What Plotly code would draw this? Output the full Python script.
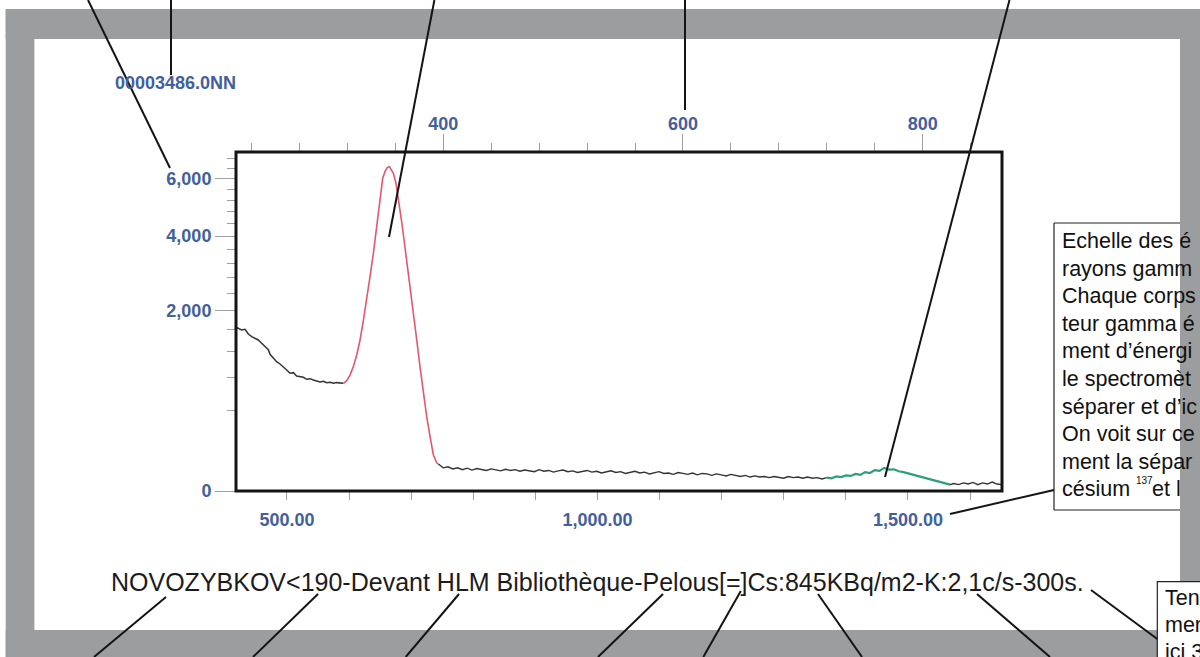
import numpy as np
import plotly.graph_objects as go

# ---------------- data ----------------
# spectrum: counts per channel, split by colour segment
black1_ch = [227.5, 229.1, 231.8, 234.6, 237.4, 240.2, 243.0, 245.7, 248.5, 251.3, 254.1, 255.5,
             258.3, 261.0, 263.8, 266.6, 269.4, 272.2, 275.0, 277.7, 280.5, 283.3, 286.1, 288.9,
             291.6, 294.4, 297.2, 300.0, 302.8, 305.6, 308.4, 311.2, 313.9, 316.7]
black1_counts = [1650, 1629, 1596, 1609, 1518, 1467, 1435, 1404, 1343, 1283, 1230, 1150,
                 1084, 1030, 993, 952, 901, 853, 862, 814, 805, 796, 768, 777,
                 759, 750, 732, 741, 723, 727, 714, 723, 714, 714]

red_ch = [316.7, 319.5, 322.2, 325.0, 327.8, 330.6, 333.4, 336.1, 338.9, 341.7, 344.5, 347.3,
          349.5, 351.4, 353.4, 355.1, 356.7, 358.4, 360.6, 362.8, 365.1, 367.3, 369.5, 372.3,
          375.1, 377.9, 380.6, 383.4, 386.2, 389.0, 391.8, 394.5, 395.9]
red_counts = [714, 750, 828, 952, 1139, 1404, 1800, 2246, 2828, 3478, 4302, 5335,
              6020, 6279, 6450, 6477, 6371, 6214, 5829, 5214, 4522, 3879, 3286, 2571,
              1944, 1404, 952, 587, 340, 182, 80, 49, 45]

black2_ch = [395.9, 400, 404, 408, 412, 416, 420, 424, 428, 432, 436, 440, 444, 448, 452, 456,
             460, 464, 468, 472, 476, 480, 484, 488, 492, 496, 500, 504, 508, 512, 516, 520,
             524, 528, 532, 536, 540, 544, 548, 552, 556, 560, 564, 568, 572, 576, 580, 584,
             588, 592, 596, 600, 604, 608, 612, 616, 620, 624, 628, 632, 636, 640, 644, 648,
             652, 656, 660, 664, 668, 672, 676, 680, 684, 688, 692, 696, 700, 704, 708, 712,
             716, 720]
black2_counts = [45, 33, 36, 30, 33, 28, 32, 27, 31, 29, 26, 30, 27, 25, 29, 26,
                 28, 24, 27, 25, 23, 28, 24, 26, 22, 25, 27, 23, 25, 21, 24, 26,
                 22, 24, 20, 23, 25, 21, 23, 19, 22, 24, 20, 22, 18, 21, 23, 19,
                 20, 17, 21, 19, 17, 20, 16, 19, 18, 15, 18, 16, 14, 17, 15, 13,
                 15, 12, 14, 12, 13, 11, 13, 12, 10, 13, 11, 12, 10, 12, 10, 11,
                 9, 11]

green_ch = [720, 724, 728, 732, 736, 740, 744, 748, 752, 756, 760, 764, 768, 772, 776, 780,
            784, 788, 792, 796, 800, 804, 808, 812, 816, 820, 822.8]
green_counts = [11, 10, 13, 12, 15, 14, 18, 16, 22, 20, 27, 25, 33, 28, 29, 24,
                22, 19, 16, 13, 11, 9, 7, 6, 4, 3, 2.5]

black3_ch = [822.8, 826, 830, 834, 838, 842, 846, 850, 854, 858, 862, 866]
black3_counts = [2.5, 3.5, 2.5, 4, 3, 4.5, 2.5, 4, 3, 5, 3, 2.5]

# axes
channel_range = [227.1, 866.2]
channel_major = [400, 600, 800]
channel_minor = [240, 280, 320, 360, 440, 480, 520, 560, 640, 680, 720, 760, 840]
energy_range = [417.9, 1651.4]
energy_major = [500, 1000, 1500]
energy_major_text = ["500.00", "1,000.00", "1,500.00"]
energy_minor = [600, 700, 800, 900, 1100, 1200, 1300, 1400, 1600]
count_top = 7075
count_major = [0, 2000, 4000, 6000]
count_major_text = ["0", "2,000", "4,000", "6,000"]
count_minor = [400, 800, 1200, 1600, 2400, 2800, 3200, 3600, 4400, 4800, 5200, 5600, 6400, 6800]

# texts
spectrum_id = "00003486.0NN"
caption = "NOVOZYBKOV&lt;190-Devant HLM Bibliothèque-Pelous[=]Cs:845KBq/m2-K:2,1c/s-300s."
box_lines = ["Echelle des é", "rayons gamm", "Chaque corps", "teur gamma é", "ment d’énergi",
             "le spectromèt", "séparer et d’ic", "On voit sur ce", "ment la sépar", "césium"]
box_sup = "137"
box_tail = "et l"
small_box_lines = ["Ten", "mer", "ici 3"]

# ---------------- layout helpers (pixel -> paper) ----------------
W, H = 1200, 657
ML, MR, MT, MB = 236, 198, 152, 166
PW, PH = W - ML - MR, H - MT - MB


def X(px):
    return (px - ML) / PW


def Y(py):
    return (H - MB - py) / PH


BLUE = "#42609c"
GRAY = "#9c9d9f"
TICK = "#a0a0a0"
INK = "#141414"

sq = np.sqrt

fig = go.Figure()
segments = [
    (black1_ch, black1_counts, "#333333", 1.5),
    (red_ch, red_counts, "#e4576c", 1.6),
    (black2_ch, black2_counts, "#333333", 1.4),
    (green_ch, green_counts, "#2b9e7b", 2.2),
    (black3_ch, black3_counts, "#333333", 1.4),
]
for ch, cnt, col, w in segments:
    fig.add_trace(go.Scatter(x=ch, y=sq(np.array(cnt, dtype=float)), mode="lines",
                             line=dict(color=col, width=w), showlegend=False,
                             hoverinfo="skip", xaxis="x", yaxis="y"))
# empty trace so the energy axis gets its own subplot
fig.add_trace(go.Scatter(x=[], y=[], xaxis="x2", yaxis="y", showlegend=False, hoverinfo="skip"))

tickfont = dict(family="Liberation Sans, Arial, sans-serif", size=18, color=BLUE, weight="bold")

shapes = []
# grey frame
for x0, x1, y0, y1 in [(5.7, 1210, 9, 39), (5.7, 34.4, 9, 670), (1180, 1210, 9, 670), (5.7, 1210, 630, 670)]:
    shapes.append(dict(type="rect", xref="paper", yref="paper", x0=X(x0), x1=X(x1), y0=Y(y0), y1=Y(y1),
                       fillcolor=GRAY, line=dict(width=0), layer="below"))
# plot frame
shapes.append(dict(type="rect", xref="paper", yref="paper", x0=0, x1=1, y0=0, y1=1,
                   line=dict(color=INK, width=3), layer="above"))
# explanation box (open on the right, hidden under the grey band)
for (ax, ay, bx, by) in [(1054, 223, 1180, 223), (1054, 223, 1054, 510), (1054, 510, 1180, 510)]:
    shapes.append(dict(type="line", xref="paper", yref="paper", x0=X(ax), y0=Y(ay), x1=X(bx), y1=Y(by),
                       line=dict(color="#222222", width=1.2), layer="above"))
# small box bottom right
shapes.append(dict(type="rect", xref="paper", yref="paper", x0=X(1157.3), x1=X(1215), y0=Y(581.7), y1=Y(670),
                   fillcolor="white", line=dict(color="#222222", width=1.2), layer="above"))
# leader lines
leaders = [
    (88, 0, 170, 168), (171, 0, 171, 75), (434.4, 0, 389, 237), (685, 0, 685, 110), (1009.5, 0, 885, 477),
    (950, 514, 1054, 490),
    (166, 597, 94, 657), (318, 594, 253, 657), (459, 594, 405.7, 657), (663, 594, 598, 657),
    (740.8, 591, 703.3, 657), (818, 594, 862, 657), (977, 594, 1050, 657), (1091, 590, 1157.3, 639),
]
for ax, ay, bx, by in leaders:
    shapes.append(dict(type="line", xref="paper", yref="paper", x0=X(ax), y0=Y(ay), x1=X(bx), y1=Y(by),
                       line=dict(color=INK, width=2), layer="above"))

annotations = []
annotations.append(dict(text=spectrum_id, x=X(175), y=Y(83), xref="paper", yref="paper", showarrow=False,
                        xanchor="center", yanchor="middle", font=tickfont))
annotations.append(dict(text=caption, x=X(109), y=Y(582), xref="paper", yref="paper", showarrow=False,
                        xanchor="left", yanchor="middle",
                        font=dict(family="Liberation Sans, Arial, sans-serif", size=25, color="#1c1c1c")))
boxfont = dict(family="Liberation Sans, Arial, sans-serif", size=21.5, color="#111111")
for i, t in enumerate(box_lines):
    annotations.append(dict(text=t, x=X(1060), y=Y(241 + i * 27.6), xref="paper", yref="paper",
                            showarrow=False, xanchor="left", yanchor="middle", font=boxfont))
annotations.append(dict(text=box_sup, x=X(1134), y=Y(480), xref="paper", yref="paper", showarrow=False,
                        xanchor="left", yanchor="middle",
                        font=dict(family="Liberation Sans, Arial, sans-serif", size=10, color="#111111")))
annotations.append(dict(text=box_tail, x=X(1150), y=Y(241 + 9 * 27.6), xref="paper", yref="paper",
                        showarrow=False, xanchor="left", yanchor="middle", font=boxfont))
for i, t in enumerate(small_box_lines):
    annotations.append(dict(text=t, x=X(1163), y=Y(598 + i * 27), xref="paper", yref="paper",
                            showarrow=False, xanchor="left", yanchor="middle", font=boxfont))

fig.update_layout(
    width=W, height=H,
    margin=dict(l=ML, r=MR, t=MT, b=MB, pad=0),
    paper_bgcolor="white", plot_bgcolor="white",
    showlegend=False,
    xaxis=dict(range=channel_range, side="top", anchor="y", tickmode="array", tickvals=channel_major,
               ticks="outside", ticklen=17, tickwidth=1, tickcolor=TICK, tickfont=tickfont,
               showgrid=False, zeroline=False, showline=False, ticklabelstandoff=-3,
               minor=dict(tickmode="array", tickvals=channel_minor, ticks="outside", ticklen=8,
                          tickwidth=1, tickcolor=TICK, showgrid=False)),
    xaxis2=dict(range=energy_range, side="bottom", anchor="y", overlaying="x", tickmode="array",
                tickvals=energy_major, ticktext=energy_major_text,
                ticks="outside", ticklen=8, tickwidth=1, tickcolor=TICK, tickfont=tickfont,
                showgrid=False, zeroline=False, showline=False, ticklabelstandoff=4,
                minor=dict(tickmode="array", tickvals=energy_minor, ticks="outside", ticklen=8,
                           tickwidth=1, tickcolor=TICK, showgrid=False)),
    yaxis=dict(range=[0, float(sq(count_top))], tickmode="array", tickvals=list(sq(np.array(count_major, dtype=float))),
               ticktext=count_major_text, ticks="outside", ticklen=20, tickwidth=1, tickcolor=TICK,
               tickfont=tickfont, showgrid=False, zeroline=False, showline=False, ticklabelstandoff=0,
               minor=dict(tickmode="array", tickvals=list(sq(np.array(count_minor, dtype=float))),
                          ticks="outside", ticklen=8, tickwidth=1, tickcolor=TICK, showgrid=False)),
    shapes=shapes,
    annotations=annotations,
)

fig.write_html("out.html", config={"displayModeBar": False},
               post_script="document.body.style.margin='0';document.body.style.overflow='hidden';")
